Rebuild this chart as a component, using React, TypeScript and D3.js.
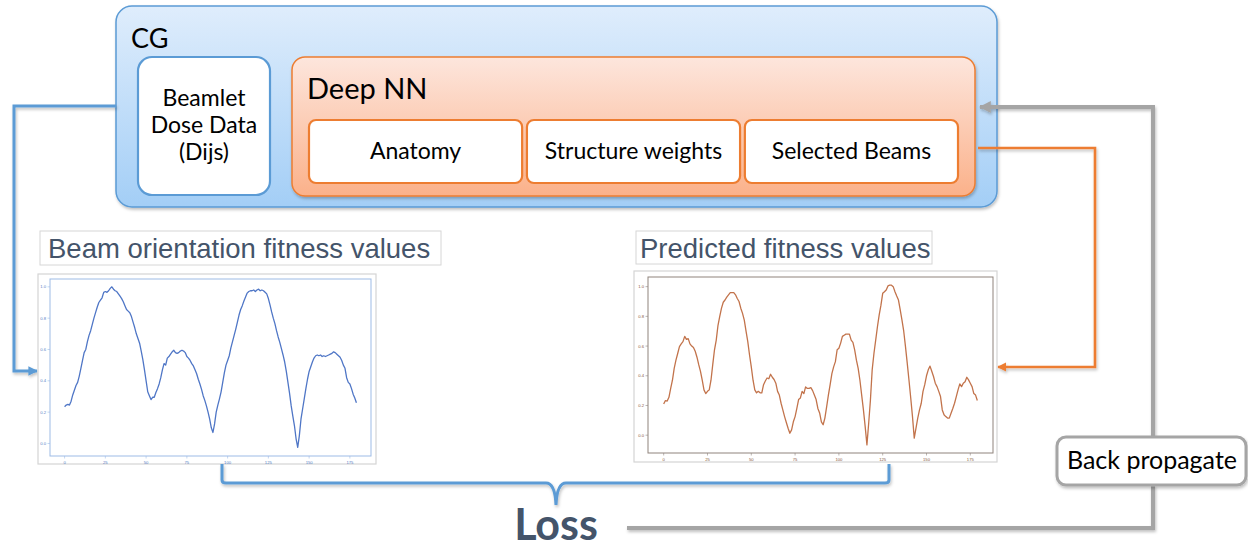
import React from 'react';
import * as d3 from 'd3';

// beam orientation fitness values (ground truth, blue), one per beam index 0..179
const beamFitness = [
  0.235, 0.245, 0.25, 0.245, 0.27, 0.31, 0.34, 0.37, 0.39, 0.43,
  0.48, 0.53, 0.58, 0.6, 0.65, 0.69, 0.72, 0.76, 0.8, 0.835,
  0.87, 0.9, 0.915, 0.93, 0.965, 0.97, 0.965, 0.975, 0.99, 1.0,
  0.985, 0.975, 0.97, 0.955, 0.94, 0.925, 0.905, 0.88, 0.855, 0.845,
  0.835, 0.81, 0.775, 0.74, 0.7, 0.67, 0.64, 0.59, 0.535, 0.47,
  0.4, 0.33, 0.305, 0.28, 0.295, 0.295, 0.325, 0.35, 0.38, 0.42,
  0.47, 0.51, 0.5, 0.545, 0.555, 0.57, 0.585, 0.595, 0.58, 0.575,
  0.58, 0.59, 0.595, 0.59, 0.58, 0.555, 0.545, 0.53, 0.51, 0.495,
  0.47, 0.445, 0.41, 0.38, 0.345, 0.305, 0.275, 0.24, 0.2, 0.155,
  0.1, 0.07, 0.125, 0.2, 0.245, 0.285, 0.33, 0.39, 0.45, 0.5,
  0.53, 0.56, 0.61, 0.65, 0.69, 0.73, 0.775, 0.82, 0.855, 0.88,
  0.91, 0.935, 0.96, 0.97, 0.975, 0.975, 0.98, 0.97, 0.98, 0.985,
  0.975, 0.98, 0.975, 0.965, 0.955, 0.925, 0.885, 0.84, 0.8, 0.765,
  0.72, 0.68, 0.645, 0.605, 0.565, 0.52, 0.46, 0.39, 0.32, 0.24,
  0.175, 0.113, 0.03, -0.025, 0.05, 0.155, 0.22, 0.285, 0.35, 0.41,
  0.46, 0.49, 0.52, 0.545, 0.56, 0.565, 0.56, 0.565, 0.555, 0.56,
  0.555, 0.56, 0.565, 0.57, 0.575, 0.585, 0.58, 0.57, 0.56, 0.55,
  0.53, 0.5, 0.48, 0.42, 0.39, 0.38, 0.35, 0.315, 0.29, 0.26,
];

// predicted fitness values (network output, orange)
const predictedFitness = [
  0.21, 0.233, 0.23, 0.255, 0.315, 0.37, 0.45, 0.505, 0.55, 0.596,
  0.615, 0.63, 0.665, 0.645, 0.65, 0.615, 0.6, 0.59, 0.565, 0.525,
  0.475, 0.43, 0.37, 0.305, 0.28, 0.295, 0.305, 0.37, 0.475, 0.575,
  0.64, 0.74, 0.8, 0.855, 0.895, 0.91, 0.93, 0.945, 0.96, 0.96,
  0.96, 0.945, 0.92, 0.9, 0.855, 0.82, 0.775, 0.7, 0.63, 0.54,
  0.46, 0.37, 0.305, 0.285, 0.295, 0.285, 0.285, 0.34, 0.365, 0.385,
  0.38, 0.41, 0.39, 0.375, 0.35, 0.295, 0.27, 0.215, 0.17, 0.125,
  0.085, 0.047, 0.013, 0.036, 0.09, 0.125, 0.18, 0.24, 0.25, 0.295,
  0.28, 0.325, 0.315, 0.315, 0.32, 0.3, 0.27, 0.24, 0.18, 0.15,
  0.09, 0.07, 0.115, 0.19, 0.27, 0.34, 0.415, 0.46, 0.495, 0.575,
  0.585, 0.62, 0.665, 0.673, 0.68, 0.68, 0.68, 0.64, 0.625, 0.575,
  0.505, 0.45, 0.37, 0.27, 0.17, 0.058, -0.065, 0.08, 0.238, 0.44,
  0.55, 0.64, 0.73, 0.81, 0.875, 0.955, 0.966, 0.978, 1.005, 1.01,
  1.01, 1.0, 0.966, 0.937, 0.91, 0.843, 0.775, 0.7, 0.596, 0.485,
  0.37, 0.25, 0.125, -0.02, 0.047, 0.115, 0.17, 0.215, 0.295, 0.34,
  0.4, 0.44, 0.465, 0.43, 0.395, 0.35, 0.327, 0.295, 0.26, 0.17,
  0.137, 0.125, 0.115, 0.115, 0.148, 0.18, 0.215, 0.26, 0.305, 0.345,
  0.327, 0.35, 0.36, 0.39, 0.372, 0.35, 0.327, 0.28, 0.27, 0.233,
];

const xTicks = [0, 25, 50, 75, 100, 125, 150, 175];
const yTicks = [0, 0.2, 0.4, 0.6, 0.8, 1.0];
const innerBoxes = ['Anatomy', 'Structure weights', 'Selected Beams'];
const beamletLines = ['Beamlet', 'Dose Data', '(Dijs)'];

const CAL = 'Lato, "Open Sans", sans-serif';
const ARIAL = '"Liberation Sans", Arial, sans-serif';
const SLATE = '#44546a';

type ChartProps = {
  frame: [number, number, number, number];
  plot: [number, number, number, number];
  yDomain: [number, number];
  values: number[];
  line: string;
  spine: string;
  tick: string;
};

const MiniChart = ({ frame, plot, yDomain, values, line, spine, tick }: ChartProps) => {
  const [px, py, pw, ph] = plot;
  const x = d3.scaleLinear().domain([-8.95, 187.95]).range([px, px + pw]);
  const y = d3.scaleLinear().domain(yDomain).range([py + ph, py]);
  const path = d3.line<number>()
    .x((_, i) => x(i))
    .y(d => y(d))(values);

  return (
    <g>
      <rect x={frame[0]} y={frame[1]} width={frame[2]} height={frame[3]} fill="#fff" stroke="#d4d4d4" strokeWidth={1.2} />
      <rect x={px} y={py} width={pw} height={ph} fill="none" stroke={spine} strokeWidth={1} />
      {yTicks.map(t => (
        <g key={'y' + t}>
          <line x1={px - 2.5} x2={px} y1={y(t)} y2={y(t)} stroke={spine} strokeWidth={0.6} />
          <text x={px - 4} y={y(t) + 1.5} fontSize={4.2} fill={tick} textAnchor="end" fontFamily={ARIAL}>{t.toFixed(1)}</text>
        </g>
      ))}
      {xTicks.map(t => (
        <g key={'x' + t}>
          <line x1={x(t)} x2={x(t)} y1={py + ph} y2={py + ph + 2.5} stroke={spine} strokeWidth={0.6} />
          <text x={x(t)} y={py + ph + 7.5} fontSize={4.2} fill={tick} textAnchor="middle" fontFamily={ARIAL}>{t}</text>
        </g>
      ))}
      <path d={path ?? ''} fill="none" stroke={line} strokeWidth={1.3} strokeLinejoin="round" />
    </g>
  );
};

export default function App() {
  const boxX = d3.scaleBand().domain(innerBoxes).range([309, 958]).paddingInner(0.022);

  return (
    <svg width={1248} height={550} style={{ position: 'fixed', left: 0, top: 0, background: '#fff' }}>
      <defs>
        <linearGradient id="cg-grad" x1="0" y1="0" x2="0" y2="1">
          <stop offset="0%" stopColor="#dfedfc" />
          <stop offset="100%" stopColor="#a3cef6" />
        </linearGradient>
        <linearGradient id="nn-grad" x1="0" y1="0" x2="0" y2="1">
          <stop offset="0%" stopColor="#fde6dd" />
          <stop offset="100%" stopColor="#fbb18a" />
        </linearGradient>
        <filter id="shadow" x="-5%" y="-5%" width="110%" height="120%">
          <feDropShadow dx="1" dy="2" stdDeviation="1.5" floodColor="#000" floodOpacity="0.25" />
        </filter>
        <marker id="arr-blue" viewBox="0 0 10 10" refX="9" refY="5" markerWidth="3.2" markerHeight="3.2" orient="auto">
          <path d="M0,0 L10,5 L0,10 z" fill="#5b9bd5" />
        </marker>
        <marker id="arr-orange" viewBox="0 0 10 10" refX="9" refY="5" markerWidth="3.6" markerHeight="3.6" orient="auto">
          <path d="M0,0 L10,5 L0,10 z" fill="#ed7d31" />
        </marker>
        <marker id="arr-grey" viewBox="0 0 10 10" refX="9" refY="5" markerWidth="3" markerHeight="3" orient="auto">
          <path d="M0,0 L10,5 L0,10 z" fill="#a5a5a5" />
        </marker>
      </defs>

      {/* CG block */}
      <rect x={116} y={6} width={881} height={201} rx={16} fill="url(#cg-grad)" stroke="#5b9bd5" strokeWidth={1.5} filter="url(#shadow)" />
      <text x={131} y={48} fontSize={27} fontFamily={CAL} fill="#000">CG</text>
      <rect x={138} y={57} width={132} height={138} rx={14} fill="#fff" stroke="#5b9bd5" strokeWidth={2.2} />
      {beamletLines.map((t, i) => (
        <text key={t} x={204} y={106 + i * 27} fontSize={23} fontFamily={CAL} textAnchor="middle" fill="#000">{t}</text>
      ))}

      <rect x={292} y={57} width={683} height={139} rx={13} fill="url(#nn-grad)" stroke="#ed7d31" strokeWidth={1.5} filter="url(#shadow)" />
      <text x={307} y={99} fontSize={29} fontFamily={CAL} fill="#000">Deep NN</text>
      {innerBoxes.map(b => (
        <g key={b}>
          <rect x={boxX(b)} y={120} width={boxX.bandwidth()} height={63} rx={7} fill="#fff" stroke="#ed7d31" strokeWidth={2.2} />
          <text x={(boxX(b) ?? 0) + boxX.bandwidth() / 2} y={159} fontSize={23} fontFamily={CAL} textAnchor="middle" fill="#000">{b}</text>
        </g>
      ))}

      {/* connectors, drawn over the blocks */}
      <path d="M116,106 H14 V371 H37" fill="none" stroke="#5b9bd5" strokeWidth={3} markerEnd="url(#arr-blue)" filter="url(#shadow)" />
      <path d="M978,148 H1095 V367 H998" fill="none" stroke="#ed7d31" strokeWidth={2.6} markerEnd="url(#arr-orange)" filter="url(#shadow)" />
      <path d="M627,528 H1153 V485" fill="none" stroke="#a5a5a5" strokeWidth={4} filter="url(#shadow)" />
      <path d="M1153,437 V107 H980" fill="none" stroke="#a5a5a5" strokeWidth={4} markerEnd="url(#arr-grey)" filter="url(#shadow)" />

      {/* chart titles */}
      <rect x={40} y={231} width={401} height={34} fill="#fff" stroke="#d6d6d6" strokeWidth={1} />
      <text x={48} y={258} fontSize={27.5} fontFamily={ARIAL} fill={SLATE}>Beam orientation fitness values</text>
      <rect x={636} y={231} width={296} height={33} fill="#fff" stroke="#d6d6d6" strokeWidth={1} />
      <text x={640} y={258} fontSize={27.5} fontFamily={ARIAL} fill={SLATE}>Predicted fitness values</text>

      <MiniChart
        frame={[38, 274, 338, 190]}
        plot={[50, 279, 321, 177]}
        yDomain={[-0.08, 1.05]}
        values={beamFitness}
        line="#4f76c6"
        spine="#9dbbe6"
        tick="#5a7fc6"
      />
      <MiniChart
        frame={[634, 271, 363, 191]}
        plot={[648, 277, 345, 176]}
        yDomain={[-0.12, 1.065]}
        values={predictedFitness}
        line="#c2734b"
        spine="#8f837d"
        tick="#8a5a40"
      />

      {/* brace */}
      <path d="M222,464 V480 Q222,483 226,483 H546 Q555,483 556,505 Q557,483 566,483 H885 Q889,483 889,480 V464"
        fill="none" stroke="#5b9bd5" strokeWidth={3} filter="url(#shadow)" />

      <text x={556} y={540} fontSize={43} fontWeight="bold" fontFamily={CAL} textAnchor="middle" fill={SLATE}>Loss</text>

      <rect x={1057} y={437} width={189} height={48} rx={9} fill="#fff" stroke="#a5a5a5" strokeWidth={3} filter="url(#shadow)" />
      <text x={1152} y={469} fontSize={25} fontFamily={CAL} textAnchor="middle" fill="#000">Back propagate</text>
    </svg>
  );
}
